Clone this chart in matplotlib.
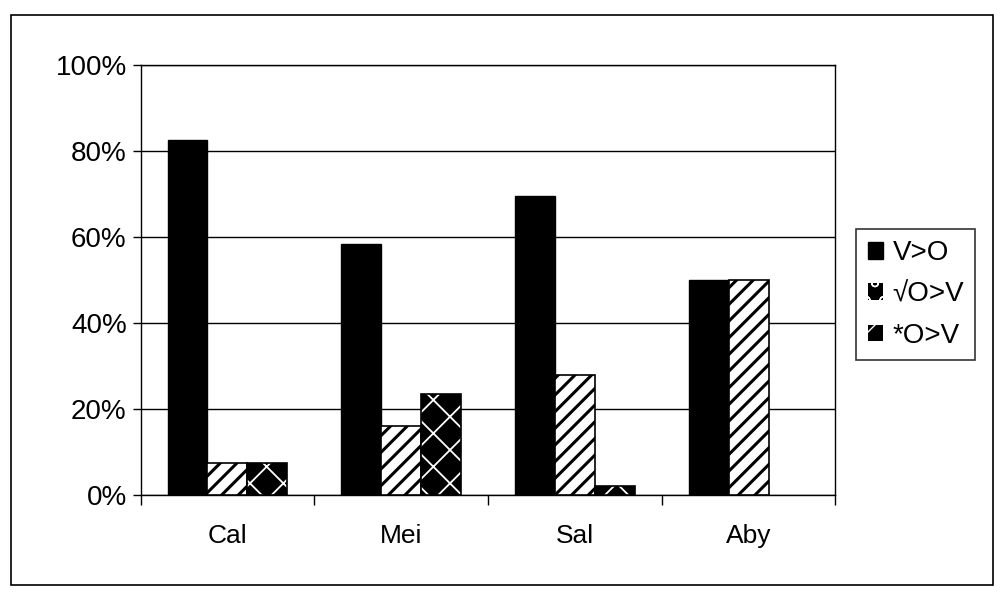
#!/usr/bin/env python3

# plot.py - grouped bar chart of preference shares (scanned Excel look)

import matplotlib
matplotlib.use("Agg")
import matplotlib.pyplot as plt
from matplotlib.patches import Rectangle, Patch
from matplotlib.ticker import FuncFormatter
import numpy as np

plt.rcParams['font.family'] = ['Liberation Sans', 'DejaVu Sans']

# Data (percent)
categories = ["Cal", "Mei", "Sal", "Aby"]
series_names = ["V>O", "\u221aO>V", "*O>V"]
v_gt_o = [82.5, 58.5, 69.5, 50]
sqrt_o_gt_v = [7.5, 16, 28, 50]
star_o_gt_v = [7.5, 23.5, 2, 0]
y_ticks = [0, 20, 40, 60, 80, 100]

BAR_W = 0.23

fig = plt.figure(figsize=(9.97, 6.03), dpi=100)
ax = fig.add_axes([0.141, 0.179, 0.697, 0.713])

x = np.arange(len(categories))

# series 1: solid black
ax.bar(x - BAR_W, v_gt_o, BAR_W, color="black", edgecolor="black", linewidth=1, zorder=3)

# series 2: white with black diagonal stripes
with plt.rc_context({"hatch.linewidth": 2.2}):
    ax.bar(x, sqrt_o_gt_v, BAR_W, facecolor="white", edgecolor="black",
           hatch="//", linewidth=1.2, zorder=3)

# series 3: black with white lattice (no outline where the value is zero)
with plt.rc_context({"hatch.linewidth": 1.3}):
    ax.bar(x + BAR_W, star_o_gt_v, BAR_W, facecolor="black", edgecolor="white",
           hatch="x", linewidth=0, zorder=3)
outline_w = [1.2 if v > 0 else 0 for v in star_o_gt_v]
ax.bar(x + BAR_W, star_o_gt_v, BAR_W, fill=False, edgecolor="black",
       linewidth=outline_w, zorder=4)

# axes styling
ax.set_xlim(-0.5, len(categories) - 0.5)
ax.set_ylim(0, 100)
ax.set_yticks(y_ticks)
ax.yaxis.set_major_formatter(FuncFormatter(lambda v, p: "{}%".format(int(v))))
ax.yaxis.grid(True, color="black", linewidth=1, zorder=0)
ax.set_axisbelow(True)

ax.set_xticks(x)
ax.set_xticklabels(categories)
ax.set_xticks(np.arange(-0.5, len(categories)), minor=True)
ax.tick_params(axis="x", which="major", length=0, pad=21, labelsize=19)
ax.tick_params(axis="x", which="minor", length=7, width=1, direction="out")
ax.tick_params(axis="y", length=6, width=1, direction="out", pad=4, labelsize=20)

for sp in ax.spines.values():
    sp.set_color("black")
    sp.set_linewidth(1)

# legend with small square keys
handles = [
    Patch(facecolor="black", edgecolor="black"),
    Patch(facecolor="black", edgecolor="white", hatch="o", linewidth=0),
    Patch(facecolor="black", edgecolor="white", hatch="/", linewidth=0),
]
leg = fig.legend(handles, series_names, loc="upper left",
                 bbox_to_anchor=(0.859, 0.62), fontsize=20, frameon=True,
                 fancybox=False, edgecolor="black", handlelength=0.55,
                 handleheight=0.55, handletextpad=0.35, labelspacing=0.55,
                 borderpad=0.4, borderaxespad=0)
leg.get_frame().set_linewidth(1.2)

# outer chart border
fig.patches.append(Rectangle((0.011, 0.03), 0.985, 0.945, transform=fig.transFigure,
                             fill=False, edgecolor="black", linewidth=1.2))

fig.savefig("out.png", dpi=100)
